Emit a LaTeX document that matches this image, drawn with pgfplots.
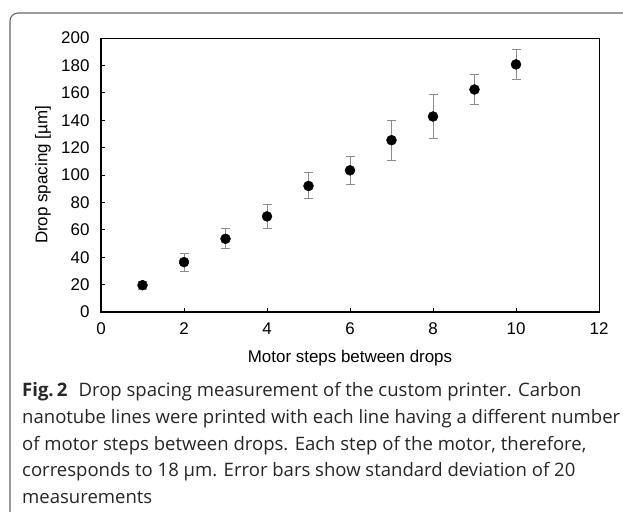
\documentclass[border=0pt]{standalone}
\usepackage{fontspec}
\setmainfont{Liberation Sans}
\newfontfamily\capfont{Open Sans}
\usepackage{pgfplots}
\pgfplotsset{compat=1.18}
\definecolor{errgray}{HTML}{8C8C8C}
\definecolor{framegray}{HTML}{666666}
\begin{document}
\begin{tikzpicture}
\useasboundingbox (0,0) rectangle (623bp,512bp);
% figure frame
\draw[framegray, line width=1.1bp] (10bp,0bp) .. controls (10bp,1bp) and (10bp,2bp) .. (10bp,3bp) -- (10bp,491bp) arc[start angle=180,end angle=90,radius=8bp] -- (623bp,499bp);
\begin{axis}[
  at={(101bp,200bp)}, anchor=south west,
  scale only axis, width=498bp, height=274bp,
  xmin=0, xmax=12, ymin=0, ymax=200,
  xtick={0,2,...,12}, ytick={0,20,...,200},
  tick align=inside, xtick pos=bottom, ytick pos=left,
  major tick length=4bp,
  tick style={black, line width=0.9bp},
  axis line style={black, line width=0.8bp},
  /pgf/number format/assume math mode=true,
  ticklabel style={font=\fontsize{17}{20}\selectfont},
  xticklabel style={yshift=-7bp},
  yticklabel style={xshift=-8bp},
  label style={font=\fontsize{17}{20}\selectfont},
  xlabel={Motor steps between drops},
  ylabel={Drop spacing [µm]},
  xlabel style={at={(axis description cs:0.5,-0.167)}, anchor=center},
  ylabel style={at={(axis description cs:-0.1165,0.5)}, anchor=center},
  clip=false,
  after end axis/.code={
    \draw[black, line width=1.8bp] (rel axis cs:0,1) -- (rel axis cs:0,0) -- (rel axis cs:1,0);
  },
]
\addplot[only marks, mark=*, mark size=5bp, mark options={black, fill=black},
  error bars/.cd, y dir=both, y explicit,
  error bar style={errgray, line width=1bp},
  error mark options={errgray, line width=1bp, rotate=90, mark size=4.5bp}]
  table[x=x, y=y, y error=e] {
x  y     e
1  19.6  3
2  36.4  6.5
3  53.4  7.4
4  69.8  9.0
5  92.0  9.5
6  103.4 10.3
7  125.4 14.7
8  142.7 16.0
9  162.4 11.2
10 180.7 11.2
};
\end{axis}
% caption
\begin{scope}[every node/.style={anchor=base west, inner sep=0pt, font=\capfont\fontsize{18.6}{22}\selectfont, text=black!85}]
\node at (22bp,115.3bp) {{\bfseries Fig.\,2}\hspace{0.6em}Drop spacing measurement of the custom printer. Carbon};
\node at (22bp,88.6bp) {nanotube lines were printed with each line having a different number};
\node at (22bp,61.9bp) {of motor steps between drops. Each step of the motor, therefore,};
\node at (22bp,35.2bp) {corresponds to 18 µm. Error bars show standard deviation of 20};
\node at (22bp,8.5bp) {measurements};
\end{scope}
\end{tikzpicture}
\end{document}
